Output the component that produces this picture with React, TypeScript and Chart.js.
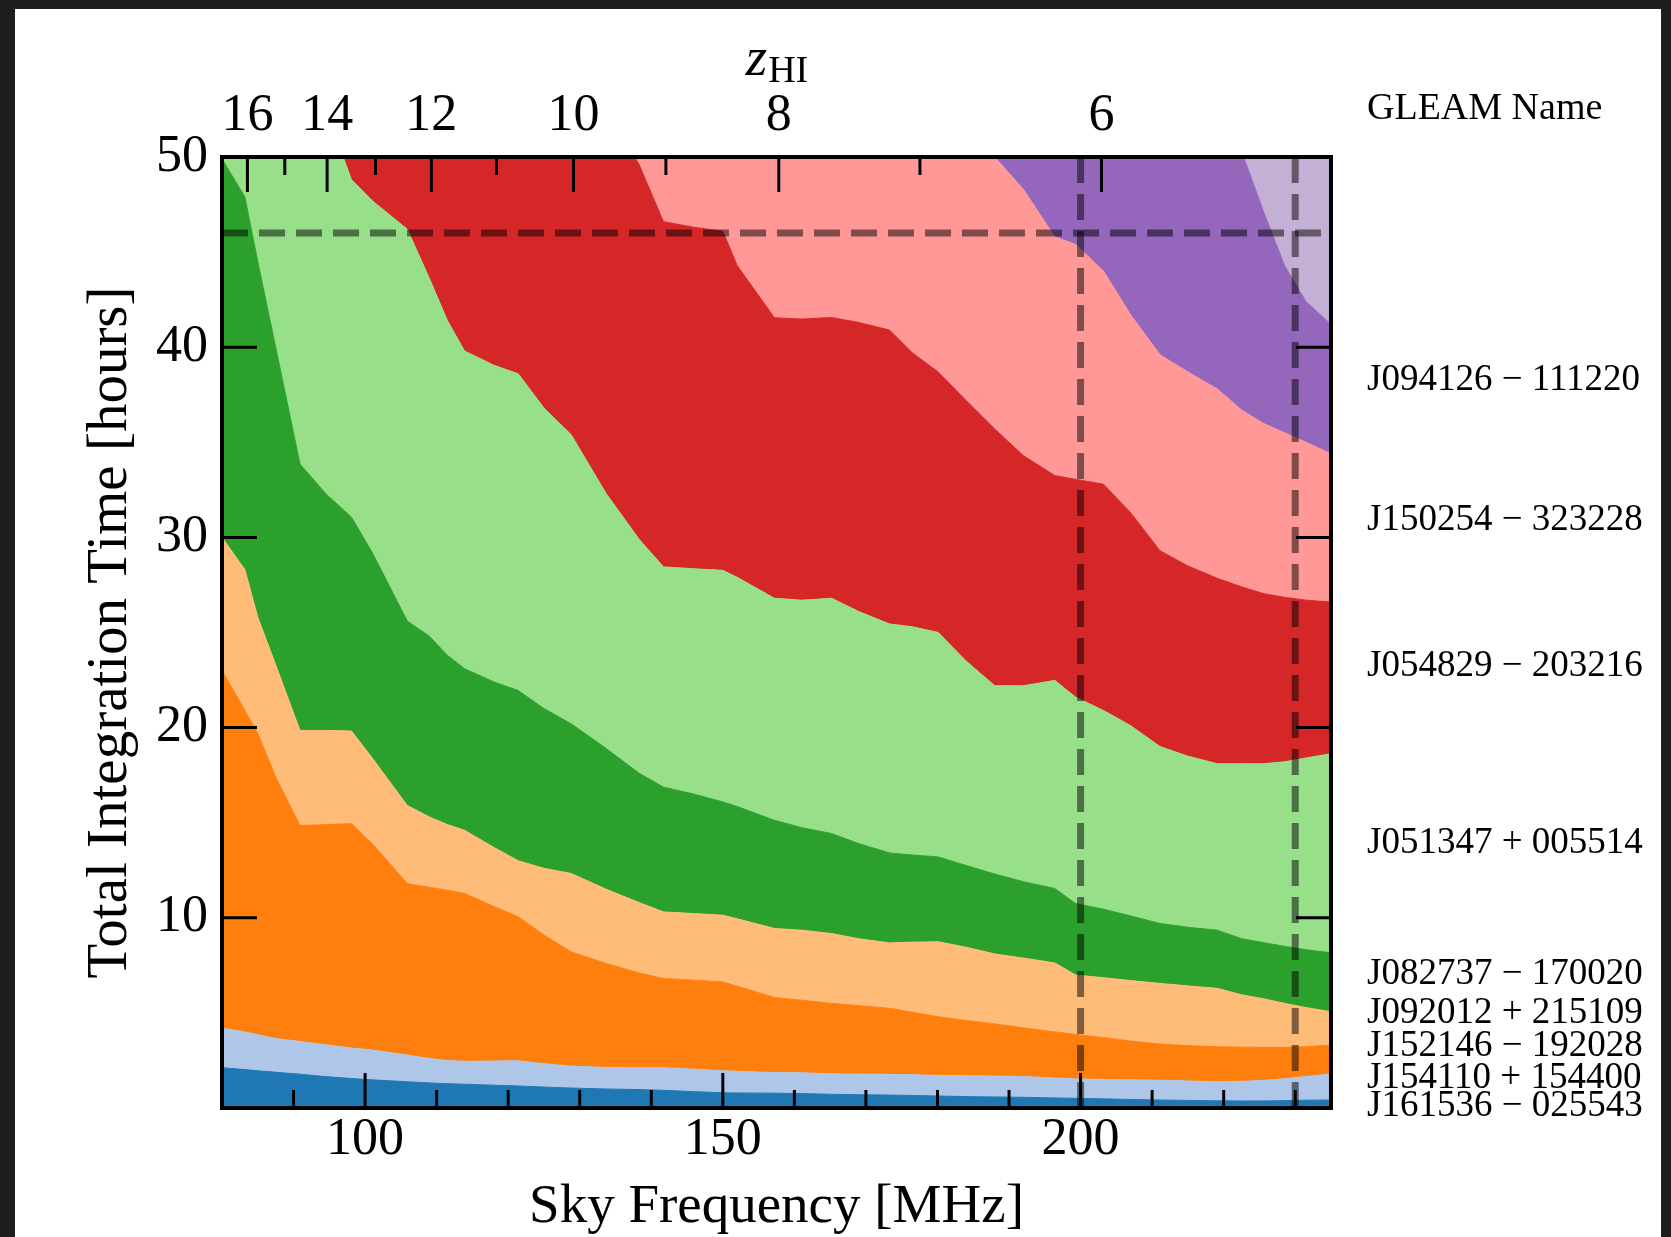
import React, { useEffect, useRef } from "react";
import { Chart, registerables } from "chart.js";

Chart.register(...registerables);

const FONT = "'Liberation Serif', 'Times New Roman', serif";
const HI_REST_MHZ = 1420.405751;

// Sky frequency sample points [MHz]
const freqMHz = [80, 83.2, 85, 87.5, 90.9, 94.5, 98.1, 101, 105.9, 109, 111.5, 113.9, 118, 121.4, 125, 128.8, 133.7, 138.3, 141.7, 146, 150, 152, 157.2, 161, 165.2, 169, 173.3, 176.5, 180.1, 184, 188, 192, 196.4, 199.3, 203.2, 207, 211.1, 215, 219.1, 222.5, 225.5, 228.5, 231.5, 235];

// Cumulative integration time [hours] at the top of each stacked band (bottom to top)
const blueTop = [2.12, 2.02, 1.96, 1.88, 1.78, 1.65, 1.55, 1.48, 1.38, 1.32, 1.28, 1.25, 1.2, 1.16, 1.1, 1.05, 1.0, 0.97, 0.93, 0.86, 0.8, 0.79, 0.78, 0.76, 0.72, 0.7, 0.68, 0.66, 0.63, 0.6, 0.58, 0.56, 0.53, 0.51, 0.48, 0.45, 0.42, 0.4, 0.38, 0.37, 0.37, 0.39, 0.41, 0.42];
const lightBlueTop = [4.2, 4.0, 3.85, 3.65, 3.5, 3.32, 3.15, 3.05, 2.78, 2.6, 2.5, 2.45, 2.47, 2.48, 2.33, 2.2, 2.13, 2.12, 2.12, 2.04, 1.96, 1.93, 1.86, 1.85, 1.8, 1.78, 1.77, 1.75, 1.71, 1.7, 1.68, 1.65, 1.58, 1.53, 1.5, 1.48, 1.46, 1.42, 1.38, 1.4, 1.45, 1.54, 1.65, 1.79];
const orangeTop = [23.0, 20.9, 19.7, 17.4, 14.85, 14.9, 14.95, 13.9, 11.8, 11.6, 11.45, 11.28, 10.6, 10.05, 9.1, 8.21, 7.6, 7.1, 6.81, 6.72, 6.63, 6.4, 5.81, 5.67, 5.5, 5.38, 5.24, 5.03, 4.8, 4.6, 4.42, 4.22, 4.0, 3.87, 3.7, 3.52, 3.36, 3.28, 3.22, 3.2, 3.19, 3.19, 3.22, 3.31];
const lightOrangeTop = [30.0, 28.3, 25.8, 23.3, 19.85, 19.85, 19.82, 18.4, 15.9, 15.3, 14.9, 14.6, 13.7, 13.0, 12.6, 12.33, 11.5, 10.8, 10.31, 10.22, 10.14, 9.95, 9.44, 9.35, 9.17, 8.9, 8.68, 8.72, 8.74, 8.45, 8.1, 7.88, 7.63, 6.99, 6.85, 6.7, 6.55, 6.42, 6.29, 5.95, 5.75, 5.5, 5.28, 5.06];
const greenTop = [49.9, 47.9, 44.5, 40.0, 33.86, 32.3, 31.06, 29.2, 25.6, 24.8, 23.8, 23.1, 22.4, 21.95, 21.0, 20.2, 18.9, 17.6, 16.87, 16.5, 16.09, 15.85, 15.13, 14.74, 14.43, 13.9, 13.41, 13.3, 13.2, 12.75, 12.3, 11.9, 11.54, 10.75, 10.45, 10.1, 9.7, 9.5, 9.35, 8.9, 8.7, 8.5, 8.32, 8.16];
const lightGreenTop = [62, 60, 59, 57.5, 55.5, 52.5, 48.8, 47.7, 46.2, 43.6, 41.4, 39.8, 39.05, 38.6, 36.8, 35.4, 32.3, 29.9, 28.45, 28.35, 28.27, 27.9, 26.8, 26.7, 26.8, 26.1, 25.45, 25.3, 25.0, 23.5, 22.2, 22.2, 22.48, 21.6, 20.9, 20.1, 19.0, 18.5, 18.1, 18.1, 18.1, 18.2, 18.4, 18.63];
const redTop = [75, 74, 73, 72, 70, 68, 66, 65, 63, 62, 61, 60, 58.5, 57.5, 56, 54.5, 52.5, 49.6, 46.6, 46.3, 46.1, 44.3, 41.55, 41.48, 41.56, 41.3, 40.9, 39.7, 38.7, 37.2, 35.7, 34.3, 33.25, 33.05, 32.8, 31.3, 29.3, 28.5, 27.85, 27.4, 27.05, 26.85, 26.7, 26.6];
const pinkTop = [95, 94, 93, 92, 90, 88, 86, 85, 83, 82, 81, 80, 78, 77, 75, 73, 71, 69, 67, 65, 63, 62, 60, 58.5, 57, 56, 55, 54, 53, 51.8, 50.0, 48.3, 45.8, 45.4, 44.0, 41.7, 39.6, 38.7, 37.8, 36.7, 36.0, 35.5, 35.0, 34.4];
const purpleTop = [110, 109, 108, 107, 105, 104, 102, 101, 99, 98, 97, 96, 94, 93, 91, 89, 87, 85, 83, 81, 79, 78, 76, 74, 72, 70, 68, 66.5, 65, 63.5, 62, 60.5, 59, 58, 57, 55.8, 54.5, 53.2, 51.8, 50.3, 47.2, 44.3, 42.4, 41.2];
const lightPurpleTop = [130, 129, 128, 127, 125, 124, 122, 121, 119, 118, 117, 116, 114, 113, 111, 109, 107, 105, 103, 101, 99, 98, 96, 94, 92, 90, 88, 86.5, 85, 83.5, 82, 80.5, 79, 78, 77, 75.8, 74.5, 73.2, 71.8, 70.3, 69, 68, 67, 66];

const bandTops = [blueTop, lightBlueTop, orangeTop, lightOrangeTop, greenTop, lightGreenTop, redTop, pinkTop, purpleTop, lightPurpleTop];
const bandColors = ["#1f77b4", "#aec7e8", "#ff7f0e", "#ffbb78", "#2ca02c", "#98df8a", "#d62728", "#ff9896", "#9467bd", "#c5b0d5"];

// Right-hand source names and their vertical positions [hours]
const sourceNames = [
  "J094126 \u2212 111220",
  "J150254 \u2212 323228",
  "J054829 \u2212 203216",
  "J051347 + 005514",
  "J082737 \u2212 170020",
  "J092012 + 215109",
  "J152146 \u2212 192028",
  "J154110 + 154400",
  "J161536 \u2212 025543",
];
const sourceLabelHours = [38.27, 30.91, 23.23, 13.9, 7.03, 4.99, 3.26, 1.56, 0.08];

// Axis settings
const freqRange = [80, 235];
const hoursRange = [0, 50];
const hourTicks = [10, 20, 30, 40, 50];
const freqMajorTicks = [100, 150, 200];
const freqMinorTicks = [90, 110, 120, 130, 140, 160, 170, 180, 190, 210, 220, 230];
const zMajorTicks = [16, 14, 12, 10, 8, 6];
const zMinorTicks = [15, 13, 11, 9, 7];

// Dashed reference lines
const limitHours = 46;
const limitFreqs = [200, 230];

const zToFreq = (z: number) => HI_REST_MHZ / (1 + z);

const decorPlugin = {
  id: "axisDecor",
  afterDraw(chart: any) {
    const { ctx, chartArea: a } = chart;
    const sx = chart.scales.x;
    const sy = chart.scales.y;
    const MAJOR = 35;
    const MINOR = 18;
    ctx.save();
    ctx.strokeStyle = "#000";
    ctx.lineWidth = 3;
    const vt = (px: number, y0: number, dir: number, len: number) => {
      ctx.beginPath();
      ctx.moveTo(px, y0);
      ctx.lineTo(px, y0 + dir * len);
      ctx.stroke();
    };
    const ht = (x0: number, py: number, dir: number, len: number) => {
      ctx.beginPath();
      ctx.moveTo(x0, py);
      ctx.lineTo(x0 + dir * len, py);
      ctx.stroke();
    };
    freqMajorTicks.forEach((f) => vt(sx.getPixelForValue(f), a.bottom, -1, MAJOR));
    freqMinorTicks.forEach((f) => vt(sx.getPixelForValue(f), a.bottom, -1, MINOR));
    zMajorTicks.forEach((z) => vt(sx.getPixelForValue(zToFreq(z)), a.top, 1, MAJOR));
    zMinorTicks.forEach((z) => vt(sx.getPixelForValue(zToFreq(z)), a.top, 1, MINOR));
    hourTicks
      .filter((h) => h < hoursRange[1])
      .forEach((h) => {
        const py = sy.getPixelForValue(h);
        ht(a.left, py, 1, MAJOR);
        ht(a.right, py, -1, MAJOR);
      });
    ctx.lineWidth = 4;
    ctx.strokeRect(a.left, a.top, a.right - a.left, a.bottom - a.top);

    // z_HI title
    ctx.fillStyle = "#000";
    ctx.textBaseline = "alphabetic";
    ctx.textAlign = "left";
    const zFont = `italic 55px ${FONT}`;
    const subFont = `38px ${FONT}`;
    ctx.font = zFont;
    const wz = ctx.measureText("z").width;
    ctx.font = subFont;
    const wsub = ctx.measureText("HI").width;
    const cx = (a.left + a.right) / 2;
    const startX = cx - (wz + wsub) / 2;
    ctx.font = zFont;
    ctx.fillText("z", startX, a.top - 82);
    ctx.font = subFont;
    ctx.fillText("HI", startX + wz + 1, a.top - 75);

    // right column header
    ctx.font = `38px ${FONT}`;
    ctx.fillText("GLEAM Name", a.right + 36, a.top - 38);
    ctx.restore();
  },
};

export default function App() {
  const canvasRef = useRef<HTMLCanvasElement | null>(null);

  useEffect(() => {
    const canvas = canvasRef.current;
    if (!canvas) return;

    const bandDatasets = bandTops.map((tops, i) => ({
      type: "line" as const,
      label: `band ${i + 1}`,
      data: freqMHz.map((f, j) => ({ x: f, y: tops[j] })),
      borderColor: bandColors[i],
      backgroundColor: bandColors[i],
      borderWidth: 1,
      pointRadius: 0,
      tension: 0,
      fill: i === 0 ? "origin" : "-1",
      order: 1,
    }));

    const dashStyle = {
      type: "line" as const,
      borderColor: "rgba(0,0,0,0.5)",
      borderWidth: 7,
      borderDash: [26, 11],
      borderCapStyle: "butt" as const,
      pointRadius: 0,
      fill: false,
      order: 0,
    };

    const dashedDatasets = [
      {
        ...dashStyle,
        label: "time limit",
        data: [
          { x: freqRange[0], y: limitHours },
          { x: freqRange[1], y: limitHours },
        ],
      },
      ...limitFreqs.map((f) => ({
        ...dashStyle,
        label: `freq ${f}`,
        data: [
          { x: f, y: hoursRange[0] },
          { x: f, y: hoursRange[1] },
        ],
      })),
    ];

    const tickFont = { family: FONT, size: 52 };

    const chart = new Chart(canvas, {
      type: "line",
      data: { datasets: [...bandDatasets, ...dashedDatasets] as any },
      options: {
        responsive: false,
        animation: false,
        devicePixelRatio: 1,
        layout: { padding: 0 },
        plugins: {
          legend: { display: false },
          tooltip: { enabled: false },
          title: { display: false },
        },
        scales: {
          x: {
            type: "linear",
            position: "bottom",
            min: freqRange[0],
            max: freqRange[1],
            grid: { display: false, drawTicks: false },
            border: { display: false },
            ticks: { font: tickFont, color: "#000", padding: 1, autoSkip: false, maxRotation: 0 },
            afterBuildTicks: (s: any) => {
              s.ticks = freqMajorTicks.map((v) => ({ value: v }));
            },
            afterFit: (s: any) => {
              s.height = 129;
            },
            title: {
              display: true,
              text: "Sky Frequency [MHz]",
              font: { family: FONT, size: 55 },
              color: "#000",
              padding: { top: 0, bottom: -4 },
            },
          },
          x2: {
            type: "linear",
            position: "top",
            min: freqRange[0],
            max: freqRange[1],
            grid: { display: false, drawTicks: false },
            border: { display: false },
            ticks: {
              font: tickFont,
              color: "#000",
              padding: 9,
              autoSkip: false,
              maxRotation: 0,
              callback: (v: any) => String(Math.round(HI_REST_MHZ / Number(v) - 1)),
            },
            afterBuildTicks: (s: any) => {
              s.ticks = zMajorTicks.map((z) => ({ value: zToFreq(z) }));
            },
            afterFit: (s: any) => {
              s.height = 148;
            },
          },
          y: {
            type: "linear",
            position: "left",
            min: hoursRange[0],
            max: hoursRange[1],
            grid: { display: false, drawTicks: false },
            border: { display: false },
            ticks: { font: tickFont, color: "#000", padding: 14, autoSkip: false },
            afterBuildTicks: (s: any) => {
              s.ticks = hourTicks.map((v) => ({ value: v }));
            },
            afterFit: (s: any) => {
              s.width = 207;
            },
            title: {
              display: true,
              text: "Total Integration Time [hours]",
              font: { family: FONT, size: 57 },
              color: "#000",
              padding: { top: 62, bottom: 0 },
            },
          },
          y2: {
            type: "linear",
            position: "right",
            min: hoursRange[0],
            max: hoursRange[1],
            grid: { display: false, drawTicks: false },
            border: { display: false },
            ticks: {
              font: { family: FONT, size: 37 },
              color: "#000",
              padding: 36,
              autoSkip: false,
              callback: (_v: any, i: number) => sourceNames[i],
            },
            afterBuildTicks: (s: any) => {
              s.ticks = sourceLabelHours.map((v) => ({ value: v }));
            },
            afterFit: (s: any) => {
              s.width = 330;
            },
          },
        },
      } as any,
      plugins: [decorPlugin],
    });

    return () => chart.destroy();
  }, []);

  return (
    <div
      style={{
        position: "fixed",
        left: 0,
        top: 0,
        width: "100vw",
        height: "100vh",
        background: "#1e1e1e",
        overflow: "hidden",
      }}
    >
      <div
        style={{
          position: "absolute",
          left: 15,
          top: 9,
          width: 1646,
          height: 1228,
          background: "#ffffff",
        }}
      >
        <canvas ref={canvasRef} width={1646} height={1228} style={{ display: "block", width: 1646, height: 1228 }} />
      </div>
    </div>
  );
}
